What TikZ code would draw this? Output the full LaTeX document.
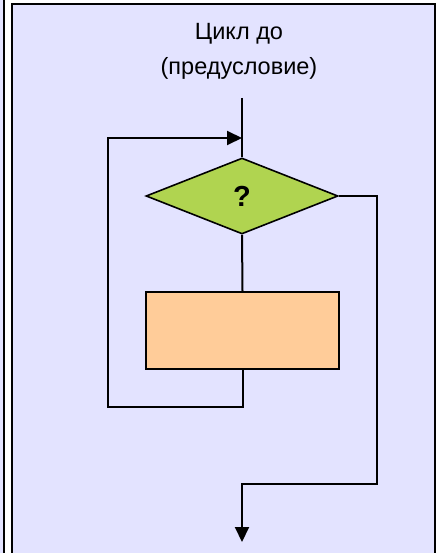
\documentclass[tikz,border=0pt]{standalone}
\usepackage{fontspec}
\setmainfont{Liberation Sans}
\usetikzlibrary{arrows.meta,shapes.geometric}
\definecolor{bgl}{RGB}{227,227,255}
\definecolor{dgreen}{RGB}{176,212,80}
\definecolor{peach}{RGB}{255,204,153}
\begin{document}
\begin{tikzpicture}[x=1pt,y=-1pt,
  conn/.style={line width=2pt},
  arr/.style={conn,-{Triangle[length=15pt,width=14pt]}},
  panel/.style={line width=2pt,fill=bgl},
  decision/.style={diamond,draw,fill=dgreen,line width=1.6pt,inner sep=0pt,
    minimum width=192pt,minimum height=76pt,font=\fontsize{29}{32}\selectfont\bfseries},
  process/.style={rectangle,draw,fill=peach,line width=1.6pt,
    minimum width=193pt,minimum height=77pt},
  title/.style={align=center,font=\fontsize{23.5}{35}\selectfont}]
\useasboundingbox (0,0) rectangle (444,553);
\fill[white] (0,0) rectangle (444,553);
\draw[line width=1.2pt,fill=bgl] (-10,-10) rectangle (4,563);
\draw[panel] (12,4.5) rectangle (435,570);
\node[title] (ttl) at (239,51) {Цикл до\\(предусловие)};
\coordinate (top) at (242,98);
\node[decision] (cond) at (242,196) {?};
\node[process] (body) at (242.5,330.5) {};
\coordinate (lb) at (108,407);
\coordinate (lt) at (108,138);
\coordinate (entry) at (242,138);
\coordinate (rc) at (377,196);
\coordinate (rb) at (377,484);
\coordinate (ret) at (242,484);
\coordinate (fin) at (242,542);
\draw[conn] (top) -- (cond.north);
\draw[conn] (cond.south) -- (body.north);
\draw[arr] (body.south) |- (lb) -- (lt) -- (entry);
\draw[arr] (cond.east) -- (rc) -- (rb) -- (ret) -- (fin);
\end{tikzpicture}
\end{document}
